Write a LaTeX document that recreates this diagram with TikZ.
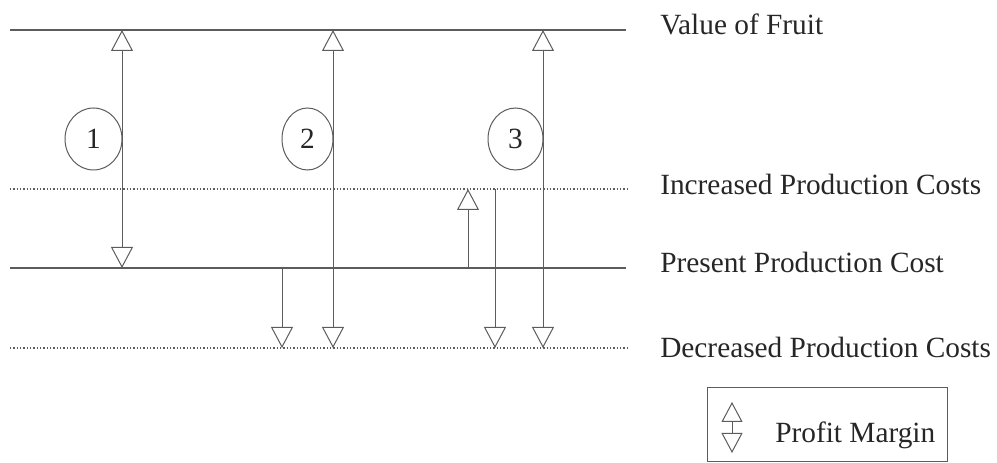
\documentclass[tikz,border=0pt]{standalone}
\usepackage{fontspec}
\setmainfont{Liberation Serif}
\usetikzlibrary{arrows.meta,shapes.geometric}
\definecolor{linec}{rgb}{0.36,0.36,0.36}
\definecolor{textc}{rgb}{0.15,0.15,0.15}
\tikzset{
  hollow/.tip={Triangle[open,length=15.75pt,width=16.5pt,line width=0.75pt]},
  smallhollow/.tip={Triangle[open,length=15pt,width=15.75pt,line width=0.75pt]}
}
\begin{document}
\begin{tikzpicture}[x=0.75pt,y=-0.75pt,
  solidline/.style={draw=linec,line width=1pt},
  dottedline/.style={draw=linec,line width=0.9pt,dash pattern=on 0.9pt off 1.6pt},
  vline/.style={draw=linec,line width=0.75pt},
  label/.style={anchor=base west,inner sep=0pt,text=textc,font=\fontsize{22}{26}\selectfont},
  numoval/.style={ellipse,draw=linec,line width=0.75pt,minimum height=46.5pt,inner sep=0pt,text=textc,font=\fontsize{22}{26}\selectfont}
]
\useasboundingbox (0,0) rectangle (997,463);
% horizontal levels
\coordinate (vL) at (10,30);  \coordinate (vR) at (626,30);
\coordinate (iL) at (10,189); \coordinate (iR) at (628,189);
\coordinate (pL) at (10,268); \coordinate (pR) at (626,268);
\coordinate (dL) at (10,348); \coordinate (dR) at (628,348);
\draw[solidline] (vL) -- (vR);
\draw[dottedline] (iL) -- (iR);
\draw[solidline] (pL) -- (pR);
\draw[dottedline] (dL) -- (dR);
% level labels
\node[label] (lv) at (660,35) {Value of Fruit};
\node[label] (li) at (660,195) {Increased Production Costs};
\node[label] (lp) at (660,273) {Present Production Cost};
\node[label] (ld) at (660,358) {Decreased Production Costs};
% arrow end points
\coordinate (a1t) at (122,30);  \coordinate (a1b) at (122,268);
\coordinate (a2t) at (333,30);  \coordinate (a2b) at (333,348);
\coordinate (a3t) at (543,30);  \coordinate (a3b) at (543,348);
\coordinate (s2t) at (282,268); \coordinate (s2b) at (282,348);
\coordinate (u3b) at (468,268); \coordinate (u3t) at (468,189);
\coordinate (d3t) at (495,189); \coordinate (d3b) at (495,348);
% profit margin arrows
\draw[vline,{hollow}-{hollow}] (a1t) -- (a1b);
\draw[vline,{hollow}-{hollow}] (a2t) -- (a2b);
\draw[vline,{hollow}-{hollow}] (a3t) -- (a3b);
\draw[vline,-{hollow}] (s2t) -- (s2b);
\draw[vline,-{hollow}] (u3b) -- (u3t);
\draw[vline,-{hollow}] (d3t) -- (d3b);
% numbered ovals
\node[numoval,minimum width=42.75pt] (c1) at (93.5,139) {1};
\node[numoval,minimum width=38.25pt] (c2) at (307.5,139) {2};
\node[numoval,minimum width=41.25pt] (c3) at (515.5,139) {3};
% legend
\node[draw=linec,line width=0.75pt,anchor=north west,minimum width=180pt,minimum height=55.5pt,inner sep=0pt] (legend) at (707,387) {};
\coordinate (gt) at (732,402); \coordinate (gb) at (732,453);
\draw[vline,{smallhollow}-{smallhollow}] (gt) -- (gb);
\node[label] (lm) at (775,443) {Profit Margin};
\end{tikzpicture}
\end{document}
